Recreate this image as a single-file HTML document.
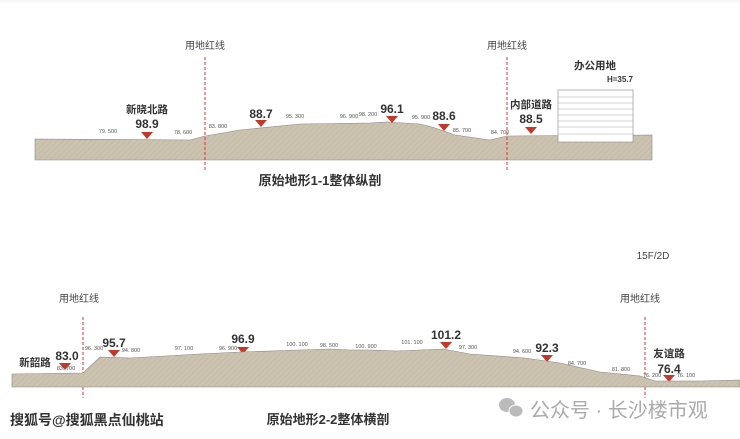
<!DOCTYPE html>
<html><head><meta charset="utf-8"><style>
body{margin:0;background:#fff;}
svg{display:block;font-family:"Liberation Sans","Noto Sans CJK SC",sans-serif;}
.s{font-size:5.5px;fill:#555;text-anchor:middle}
.v{font-size:12px;font-weight:bold;fill:#333;text-anchor:middle}
.n{font-size:10.5px;font-weight:bold;fill:#333;text-anchor:middle}
.r{font-size:10px;fill:#444;text-anchor:middle}
</style></head><body>
<svg width="740" height="439" viewBox="0 0 740 439">
<defs><pattern id="h" width="4" height="4" patternUnits="userSpaceOnUse" patternTransform="rotate(45)">
<rect width="4" height="4" fill="#cbc3b0"/><line x1="0" y1="0" x2="0" y2="4" stroke="#bdb49f" stroke-width="1"/></pattern></defs>
<line x1="0" y1="1" x2="740" y2="1" stroke="#eee"/>
<polygon fill="url(#h)" stroke="#888" stroke-width="0.6" points="35,139 190,140 205,136 240,130 300,124 370,123 387,122 420,124 432,127 455,135 490,140 507,136 652,135 652,160 35,160"/>
<rect x="558" y="90" width="75" height="52" fill="#fff" stroke="#999" stroke-width="0.7"/>
<g stroke="#aaa" stroke-width="0.6"><line x1="558" y1="97" x2="633" y2="97"/><line x1="558" y1="103" x2="633" y2="103"/><line x1="558" y1="109" x2="633" y2="109"/><line x1="558" y1="115" x2="633" y2="115"/><line x1="558" y1="121" x2="633" y2="121"/><line x1="558" y1="127" x2="633" y2="127"/><line x1="558" y1="134" x2="633" y2="134"/></g>
<g stroke="#e03030" stroke-width="1" stroke-dasharray="3,2"><line x1="205" y1="57" x2="205" y2="172"/><line x1="507" y1="57" x2="507" y2="172"/><line x1="83" y1="317" x2="83" y2="398"/><line x1="645" y1="317" x2="645" y2="398"/></g>
<text class="r" x="205" y="49">用地红线</text><text class="r" x="507" y="49">用地红线</text>
<text class="n" x="147" y="113">新晓北路</text><text class="v" x="147" y="128">98.9</text>
<text class="v" x="261" y="118">88.7</text><text class="v" x="392" y="113">96.1</text>
<text class="v" x="444" y="120">88.6</text><text class="n" x="531" y="108">内部道路</text><text class="v" x="531" y="123">88.5</text>
<text class="n" x="595" y="69">办公用地</text><text x="620" y="82" style="font-size:8px;font-weight:bold;fill:#333;text-anchor:middle">H=35.7</text>
<g fill="#c0392b"><polygon points="141,132 153,132 147,139"/><polygon points="255,120 267,120 261,127"/><polygon points="386,116 398,116 392,123"/><polygon points="438,124 450,124 444,131"/><polygon points="525,127 537,127 531,134"/>
<polygon points="59,363 71,363 65,370"/><polygon points="108,350 120,350 114,357"/><polygon points="237,347 249,347 243,354"/><polygon points="440,342 452,342 446,349"/><polygon points="541,355 553,355 547,362"/><polygon points="663,375 675,375 669,382"/></g>
<text class="s" x="108" y="133">79. 500</text><text class="s" x="183" y="134">78. 600</text><text class="s" x="218" y="128">83. 800</text><text class="s" x="295" y="118">95. 300</text><text class="s" x="349" y="118">96. 900</text><text class="s" x="368" y="116">98. 200</text><text class="s" x="421" y="119">95. 900</text><text class="s" x="462" y="132">85. 700</text><text class="s" x="500" y="134">84. 700</text>
<text x="320" y="185" style="font-size:13px;font-weight:bold;fill:#333;text-anchor:middle">原始地形1-1整体纵剖</text>
<text x="653" y="259" style="font-size:10px;fill:#444;text-anchor:middle">15F/2D</text>
<polygon fill="url(#h)" stroke="#888" stroke-width="0.6" points="12,374 83,373 100,357 130,358 200,354 240,352 300,350 330,349 350,350 370,350 397,351 443,349 470,354 525,358 560,363 600,372 640,376 655,381 700,381 740,380 740,387 12,387"/>
<text class="r" x="79" y="302">用地红线</text><text class="r" x="640" y="302">用地红线</text>
<text class="n" x="35" y="366">新韶路</text><text class="v" x="67" y="360">83.0</text>
<text class="v" x="114" y="347">95.7</text><text class="v" x="243" y="343">96.9</text><text class="v" x="446" y="339">101.2</text><text class="v" x="547" y="352">92.3</text>
<text class="n" x="669" y="357">友谊路</text><text class="v" x="669" y="373">76.4</text>
<text class="s" x="66" y="370">83. 700</text><text class="s" x="94" y="350">96. 300</text><text class="s" x="131" y="352">94. 800</text><text class="s" x="184" y="350">97. 100</text><text class="s" x="228" y="350">96. 900</text><text class="s" x="297" y="346">100. 100</text><text class="s" x="329" y="347">98. 500</text><text class="s" x="366" y="348">100. 900</text><text class="s" x="412" y="344">101. 100</text><text class="s" x="468" y="349">97. 300</text><text class="s" x="522" y="353">94. 600</text><text class="s" x="577" y="365">84. 700</text><text class="s" x="621" y="371">81. 800</text><text class="s" x="652" y="377">76. 200</text><text class="s" x="686" y="377">76. 100</text>
<text x="328" y="424" style="font-size:13px;font-weight:bold;fill:#333;text-anchor:middle">原始地形2-2整体横剖</text>
<text x="10" y="425" style="font-size:14px;font-weight:bold;fill:#333">搜狐号@搜狐黑点仙桃站</text>
<g fill="#bbb"><ellipse cx="507" cy="405" rx="8" ry="7"/><ellipse cx="516" cy="411" rx="7" ry="6" stroke="#fff" stroke-width="1"/></g>
<text x="530" y="417" style="font-size:20px;fill:#aaa">公众号 · 长沙楼市观</text>
</svg>
</body></html>
